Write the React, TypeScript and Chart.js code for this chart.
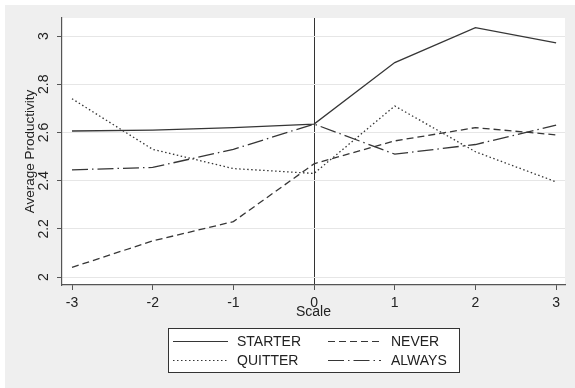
import React, { useEffect, useRef } from "react";
import { Chart, registerables } from "chart.js";

Chart.register(...registerables);

const scalePoints = [-3, -2, -1, 0, 1, 2, 3];
const starter = [2.606, 2.61, 2.62, 2.635, 2.89, 3.035, 2.972];
const never = [2.04, 2.15, 2.23, 2.47, 2.565, 2.62, 2.59];
const quitter = [2.74, 2.53, 2.45, 2.43, 2.71, 2.52, 2.395];
const always = [2.445, 2.455, 2.53, 2.635, 2.51, 2.55, 2.63];
const yTicks = [2, 2.2, 2.4, 2.6, 2.8, 3];
const yTickLabels = ["2", "2.2", "2.4", "2.6", "2.8", "3"];
const xTickLabels = ["-3", "-2", "-1", "0", "1", "2", "3"];

const LINE = "#363636";
const FONT = "'Liberation Sans', Arial, sans-serif";

const series = [
  { label: "STARTER", data: starter, dash: [] as number[] },
  { label: "NEVER", data: never, dash: [7, 4] },
  { label: "QUITTER", data: quitter, dash: [1.5, 2.5] },
  { label: "ALWAYS", data: always, dash: [16, 4, 1.5, 4] },
];

const bgPlugin = {
  id: "bgPlugin",
  beforeDraw(chart: any) {
    const { ctx, chartArea } = chart;
    ctx.save();
    ctx.fillStyle = "#ffffff";
    ctx.fillRect(0, 0, chart.width, chart.height);
    ctx.fillStyle = "#efefef";
    ctx.fillRect(5, 5, chart.width - 5, chart.height - 5);
    ctx.fillStyle = "#ffffff";
    ctx.fillRect(chartArea.left, chartArea.top, chartArea.right - chartArea.left, chartArea.bottom - chartArea.top);
    ctx.restore();
  },
};

const extrasPlugin = {
  id: "extrasPlugin",
  afterDraw(chart: any) {
    const { ctx } = chart;
    const y = chart.scales.y;
    ctx.save();
    ctx.fillStyle = "#222";
    ctx.font = `14px ${FONT}`;
    ctx.textAlign = "center";
    ctx.textBaseline = "middle";
    yTicks.forEach((v, i) => {
      const py = y.getPixelForValue(v);
      ctx.save();
      ctx.translate(44.5, py);
      ctx.rotate(-Math.PI / 2);
      ctx.fillText(yTickLabels[i], 0, 0);
      ctx.restore();
    });

    // legend
    const bx = 168.5, by = 328.5, bw = 291, bh = 44;
    ctx.fillStyle = "#ffffff";
    ctx.fillRect(bx, by, bw, bh);
    ctx.strokeStyle = "#333";
    ctx.lineWidth = 1;
    ctx.setLineDash([]);
    ctx.strokeRect(bx, by, bw, bh);
    const cols = [
      { x0: 173, x1: 228, tx: 237 },
      { x0: 328, x1: 381, tx: 391 },
    ];
    const rows = [341.5, 360.5];
    series.forEach((s, k) => {
      const c = cols[k % 2];
      const ry = rows[Math.floor(k / 2)];
      ctx.strokeStyle = LINE;
      ctx.lineWidth = 1.2;
      ctx.setLineDash(s.dash);
      ctx.beginPath();
      ctx.moveTo(c.x0, ry);
      ctx.lineTo(c.x1, ry);
      ctx.stroke();
      ctx.setLineDash([]);
      ctx.fillStyle = "#222";
      ctx.font = `14px ${FONT}`;
      ctx.textAlign = "left";
      ctx.textBaseline = "middle";
      ctx.fillText(s.label, c.tx, ry + 0.5);
    });
    ctx.restore();
  },
};

export default function App() {
  const ref = useRef<HTMLCanvasElement | null>(null);
  useEffect(() => {
    if (!ref.current) return;
    const chart = new Chart(ref.current, {
      type: "line",
      data: {
        datasets: series.map((s) => ({
          label: s.label,
          data: scalePoints.map((x, i) => ({ x, y: s.data[i] })),
          borderColor: LINE,
          borderWidth: 1.3,
          borderDash: s.dash,
          pointRadius: 0,
          tension: 0,
          fill: false,
        })),
      },
      options: {
        animation: false,
        responsive: false,
        maintainAspectRatio: false,
        layout: { padding: { top: 18, right: 10, bottom: 67, left: 0 } },
        plugins: { legend: { display: false }, tooltip: { enabled: false } },
        scales: {
          x: {
            type: "linear",
            min: -3.124,
            max: 3.11,
            afterBuildTicks: (scale: any) => {
              scale.ticks = scalePoints.map((v) => ({ value: v }));
            },
            afterFit: (scale: any) => {
              scale.height = 36;
            },
            ticks: {
              color: "#222",
              font: { family: FONT, size: 14 },
              padding: 5,
              maxRotation: 0,
              callback: (v: any) => xTickLabels[scalePoints.indexOf(Number(v))] ?? "",
            },
            grid: {
              color: (c: any) => (c.tick && c.tick.value === 0 ? "#333" : "rgba(0,0,0,0)"),
              tickColor: "#555",
              tickLength: 5,
              lineWidth: 1,
            },
            border: { display: true, color: "#555", width: 1.2 },
            title: {
              display: true,
              text: "Scale",
              color: "#222",
              font: { family: FONT, size: 14 },
              padding: { top: 0, bottom: 0 },
            },
          },
          y: {
            type: "linear",
            min: 1.967,
            max: 3.075,
            afterBuildTicks: (scale: any) => {
              scale.ticks = yTicks.map((v) => ({ value: v }));
            },
            afterFit: (scale: any) => {
              scale.width = 62;
            },
            ticks: { color: "rgba(0,0,0,0)", font: { family: FONT, size: 14 } },
            grid: {
              color: "#e6e6e6",
              tickColor: "#555",
              tickLength: 5,
              lineWidth: 1,
            },
            border: { display: true, color: "#555", width: 1.2 },
            title: {
              display: true,
              text: "Average Productivity",
              color: "#222",
              font: { family: FONT, size: 13.5 },
              padding: { top: 22, bottom: 0 },
            },
          },
        },
      },
      plugins: [bgPlugin, extrasPlugin],
    } as any);
    return () => chart.destroy();
  }, []);
  return (
    <div style={{ position: "absolute", left: 0, top: 0, width: 575, height: 388 }}>
      <canvas ref={ref} width={575} height={388} style={{ width: 575, height: 388, display: "block" }} />
    </div>
  );
}
